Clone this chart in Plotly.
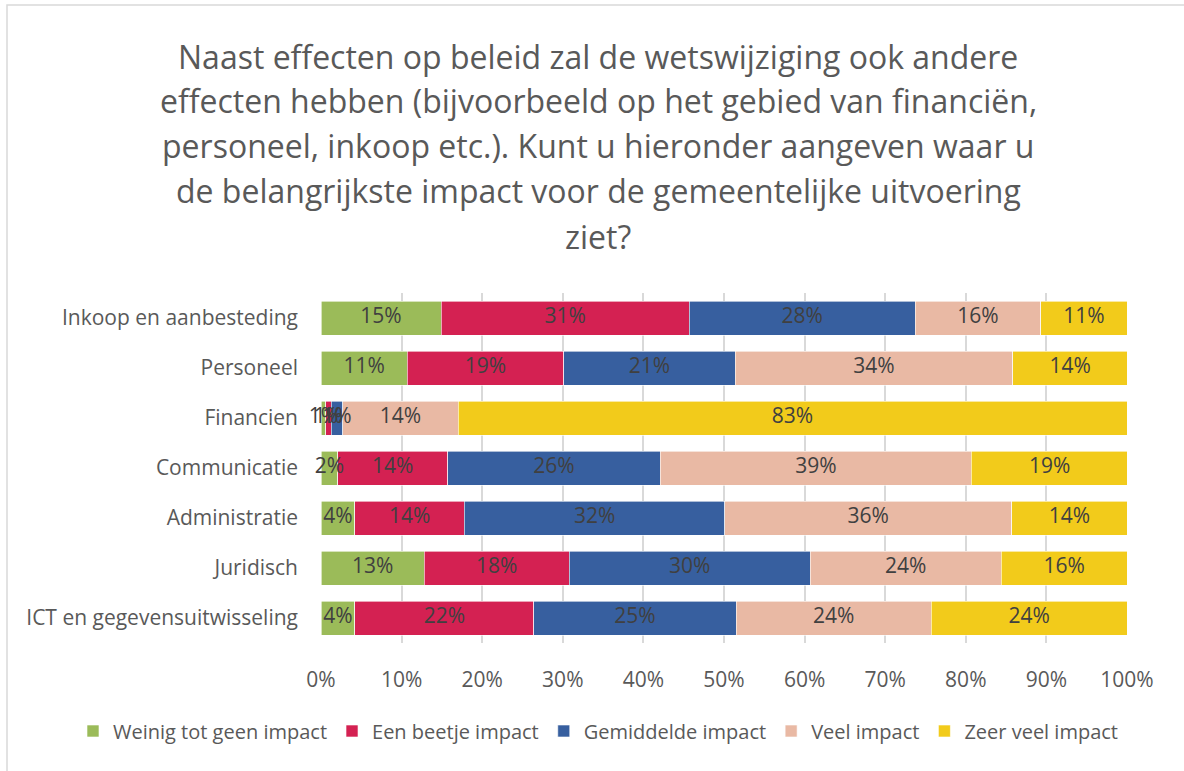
import plotly.graph_objects as go

categories = ["Inkoop en aanbesteding", "Personeel", "Financien", "Communicatie",
              "Administratie", "Juridisch", "ICT en gegevensuitwisseling"]

weinig = [14.9, 10.7, 0.6, 2.1, 4.2, 12.8, 4.2]
beetje = [30.8, 19.4, 0.65, 13.6, 13.6, 18.0, 22.2]
gemiddeld = [28.0, 21.3, 1.45, 26.4, 32.3, 29.9, 25.1]
veel = [15.6, 34.4, 14.3, 38.6, 35.6, 23.7, 24.2]
zeer_veel = [10.7, 14.3, 83.0, 19.4, 14.3, 15.6, 24.3]

series_names = ["Weinig tot geen impact", "Een beetje impact", "Gemiddelde impact",
                "Veel impact", "Zeer veel impact"]
series_values = [weinig, beetje, gemiddeld, veel, zeer_veel]
colors = ["#9BBB59", "#D42152", "#375F9F", "#E9B9A4", "#F2CB1B"]

tick_values = list(range(0, 101, 10))
tick_labels = [f"{v}%" for v in tick_values]

title_lines = [
    "Naast effecten op beleid zal de wetswijziging ook andere",
    "effecten hebben (bijvoorbeeld op het gebied van financiën,",
    "personeel, inkoop etc.). Kunt u hieronder aangeven waar u",
    "de belangrijkste impact voor de gemeentelijke uitvoering",
    "ziet?",
]

FONT = "Open Sans"
W, H = 1184, 771
L, R, T, B = 321, 1127, 293, 643
PW, PH = R - L, B - T

fig = go.Figure()
for name, vals, col in zip(series_names, series_values, colors):
    fig.add_trace(go.Bar(
        y=categories, x=vals, name=name, orientation="h",
        marker=dict(color=col, line=dict(color="white", width=0.6)),
        hoverinfo="skip",
    ))

# data labels centred on each segment (Excel style, never shrunk)
lx, ly, lt = [], [], []
for i, cat in enumerate(categories):
    start = 0.0
    for vals in series_values:
        v = vals[i]
        lx.append(start + v / 2)
        ly.append(cat)
        lt.append(f"{round(v):.0f}%")
        start += v
fig.add_trace(go.Scatter(
    x=lx, y=ly, text=lt, mode="text", textposition="middle center",
    textfont=dict(family=FONT, size=21, color="#404040"),
    showlegend=False, hoverinfo="skip", cliponaxis=False,
))

def py(ypix):
    return (B - ypix) / PH

title_y = [56, 100.5, 145, 190, 236]
annotations = []
for line, yc in zip(title_lines, title_y):
    annotations.append(dict(
        text=line, xref="paper", yref="paper",
        x=(598 - L) / PW, y=py(yc), xanchor="center", yanchor="middle",
        showarrow=False, font=dict(family=FONT, size=32, color="#595959"),
    ))

fig.update_layout(
    width=W, height=H,
    margin=dict(l=L, r=W - R, t=T, b=H - B, pad=0, autoexpand=False),
    paper_bgcolor="white", plot_bgcolor="white",
    barmode="stack", bargap=0.32,
    showlegend=True,
    legend=dict(orientation="h", x=(73 - L) / PW, xanchor="left",
                y=py(731), yanchor="middle",
                font=dict(family=FONT, size=20, color="#595959"),
                itemwidth=30, tracegroupgap=0, traceorder="normal"),
    xaxis=dict(range=[0, 100], tickvals=tick_values, ticktext=tick_labels,
               showgrid=True, gridcolor="#D9D9D9", gridwidth=1.5,
               zeroline=False, showline=False,
               tickfont=dict(family=FONT, size=21, color="#595959"),
               ticklabelstandoff=22, fixedrange=True),
    yaxis=dict(autorange="reversed", showgrid=False, showline=False,
               tickfont=dict(family=FONT, size=21, color="#595959"),
               ticklabelstandoff=22, fixedrange=True),
    annotations=annotations,
    shapes=[dict(type="rect", xref="paper", yref="paper",
                 x0=(7 - L) / PW, x1=(1200 - L) / PW, y0=py(800), y1=py(5),
                 line=dict(color="#D9D9D9", width=1.5), fillcolor="rgba(0,0,0,0)",
                 layer="below")],
)

fig.write_html("out.html", config={"displayModeBar": False},
               post_script="document.body.style.margin='0px';")
